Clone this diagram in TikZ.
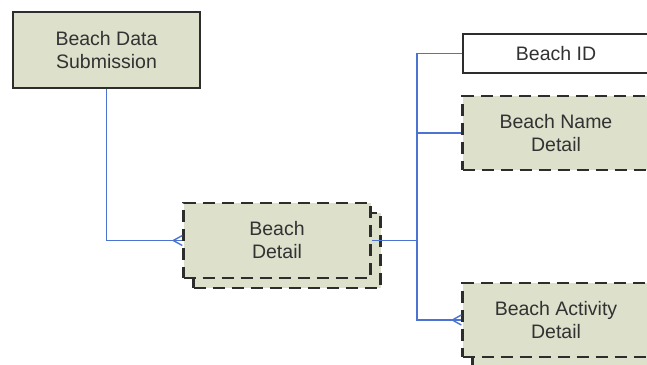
\documentclass[tikz,border=0pt]{standalone}
\usepackage{fontspec}
\setmainfont{Liberation Sans}
\usetikzlibrary{calc}
\definecolor{boxfill}{RGB}{221,224,203}
\definecolor{boxline}{RGB}{45,45,45}
\definecolor{connblue}{RGB}{75,115,210}
\definecolor{txt}{RGB}{50,50,50}
\tikzset{
  entity/.style={rectangle, draw=boxline, fill=boxfill, line width=2.4pt,
    minimum width=187pt, inner sep=0pt, align=center, text=txt,
    font=\fontsize{19.5}{23}\selectfont},
  dentity/.style={entity, dash pattern=on 12pt off 7pt},
  keybox/.style={entity, fill=white, draw=boxline, line width=2pt},
  conn/.style={draw=connblue, line width=1.9pt},
}
\begin{document}
\begin{tikzpicture}[x=1pt,y=-1pt]
\useasboundingbox (0,0) rectangle (647,364);
% shadows
\node[dentity, minimum height=75pt] (detsh) at (287,250.5) {};
\node[dentity, minimum height=74pt] (actsh) at (566,330) {};
% main boxes
\node[entity, minimum height=76pt] (sub) at (106.5,50) {Beach Data\\Submission};
\node[dentity, minimum height=75pt] (det) at (277,240.5) {Beach\\Detail};
\node[keybox, minimum height=39pt] (bid) at (556,53.5) {Beach ID};
\node[dentity, minimum height=74pt] (bname) at (556,133) {Beach Name\\Detail};
\node[dentity, minimum height=74pt] (act) at (556,320) {Beach Activity\\Detail};
% connectors
\coordinate (j) at (417,240.5);
\draw[conn] (sub.south) |- (det.west);
\draw[conn] (det.east) -- (j);
\draw[conn] (j) |- (bid.west);
\draw[conn] (j) |- (bname.west);
\draw[conn] (j) |- (act.west);
% crow's feet
\foreach \n in {det,act}{
  \draw[conn, line width=1.4pt] ($(\n.west)+(-9,0)$) -- ($(\n.west)+(0,-5)$);
  \draw[conn, line width=1.4pt] ($(\n.west)+(-9,0)$) -- ($(\n.west)+(0,5)$);
}
\end{tikzpicture}
\end{document}
